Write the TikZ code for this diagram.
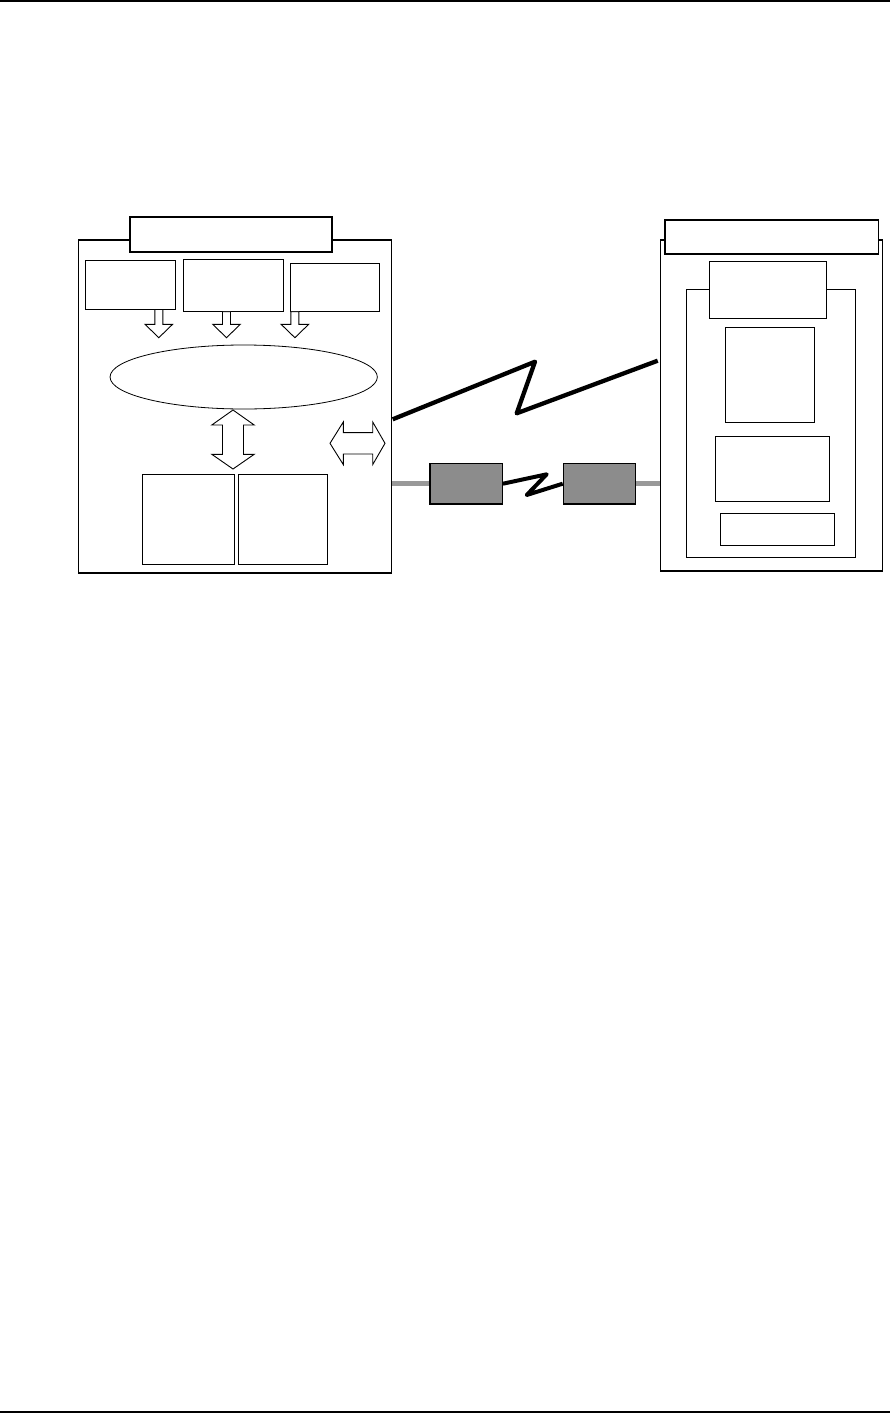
\documentclass[tikz,border=0pt]{standalone}
\usetikzlibrary{calc,shapes.geometric}
\begin{document}
\begin{tikzpicture}[x=1pt,y=-1pt,
  outerbox/.style={draw,line width=1.3pt,fill=white,inner sep=0pt,rectangle},
  titlebox/.style={draw,line width=1.7pt,fill=white,inner sep=0pt,rectangle},
  plainbox/.style={draw,line width=1pt,fill=white,inner sep=0pt,rectangle},
  graybox/.style={draw,line width=1.2pt,fill=black!45,inner sep=0pt,rectangle},
  blockarrow/.style={draw,line width=0.9pt,fill=white,line join=miter},
  bolt/.style={line width=4.3pt,line join=round,line cap=butt},
  grayline/.style={line width=5pt,draw=black!40}]
\useasboundingbox (0,0) rectangle (890,1413);
% page rules
\coordinate (tl) at (0,1); \coordinate (tr) at (890,1);
\coordinate (bl) at (0,1412); \coordinate (br) at (890,1412);
\draw[line width=1.5pt] (tl) -- (tr);
\draw[line width=1.5pt] (bl) -- (br);
% left panel
\node[outerbox,minimum width=313.4pt,minimum height=333pt] (lo) at (235,406.5) {};
\node[titlebox,minimum width=201.7pt,minimum height=35pt] (lt) at (230.8,234.2) {};
\node[plainbox,minimum width=89.7pt,minimum height=49pt] (b1) at (130.8,284.5) {};
\node[plainbox,minimum width=100pt,minimum height=51.7pt] (b2) at (233.3,285.8) {};
\node[plainbox,minimum width=88.6pt,minimum height=48.4pt] (b3) at (335,287.5) {};
\node[draw,line width=0.8pt,ellipse,minimum width=267.3pt,minimum height=64pt,inner sep=0pt] (el) at (243.7,377) {};
\node[plainbox,minimum width=92pt,minimum height=90pt] (ba) at (188.3,519.3) {};
\node[plainbox,minimum width=89pt,minimum height=90pt] (bb) at (282.8,519.3) {};
% small down block arrows
\foreach \cx/\top in {158.8/309.5, 226.5/311.7, 294.9/311.7}{
  \draw[blockarrow] (\cx-4,\top) -- (\cx+4,\top) -- (\cx+4,324.3) -- (\cx+13.8,324.3)
     -- (\cx,337.7) -- (\cx-13.8,324.3) -- (\cx-4,324.3) -- cycle;
}
% vertical double block arrow
\coordinate (va) at (233,439.5);
\draw[blockarrow] ($(va)+(0,-29.5)$) -- ++(21.2,15) -- ++(-10.7,0) -- ++(0,29.3) -- ++(10.7,0)
   -- ($(va)+(0,29.5)$) -- ++(-21.2,-14.7) -- ++(10.7,0) -- ++(0,-29.3) -- ++(-10.7,0) -- cycle;
% horizontal double block arrow
\coordinate (ha) at (357.5,443.3);
\draw[blockarrow] ($(ha)+(-27.5,0)$) -- ++(13.3,-21.3) -- ++(0,10.6) -- ++(29.4,0) -- ++(0,-10.6)
   -- ($(ha)+(27.5,0)$) -- ++(-12.3,21.3) -- ++(0,-10.6) -- ++(-29.4,0) -- ++(0,10.6) -- cycle;
% right panel
\node[outerbox,minimum width=221.6pt,minimum height=331pt] (ro) at (771.5,405.5) {};
\node[titlebox,minimum width=213.3pt,minimum height=34pt] (rt) at (771.7,237) {};
\node[plainbox,line width=1.1pt,minimum width=169.3pt,minimum height=268pt] (ri) at (770.7,423.3) {};
\node[plainbox,line width=1.1pt,minimum width=117.4pt,minimum height=57.3pt] (rs) at (768,289.7) {};
\node[plainbox,minimum width=89pt,minimum height=95pt] (r1) at (769.8,374.8) {};
\node[plainbox,minimum width=114.4pt,minimum height=65.3pt] (r2) at (772.5,468.7) {};
\node[plainbox,minimum width=114.4pt,minimum height=32pt] (r3) at (777.5,529.3) {};
% gray modem boxes
\node[graybox,minimum width=72.3pt,minimum height=40.7pt] (g1) at (466.2,483.7) {};
\node[graybox,minimum width=72.4pt,minimum height=40.7pt] (g2) at (599.5,483.7) {};
% connectors
\coordinate (z1) at (392.7,419.3);
\coordinate (z2) at (535,361.7);
\coordinate (z3) at (516.7,413.3);
\coordinate (z4) at (657.7,360.7);
\draw[bolt] (z1) -- (z2) -- (z3) -- (z4);
\draw[grayline] (lo.east |- g1.west) -- (g1.west);
\draw[grayline] (g2.east) -- (ro.west |- g2.east);
\coordinate (m1) at (546.7,474.3);
\coordinate (m2) at (526.7,495);
\draw[bolt,line width=4pt] (g1.east) -- (m1) -- (m2) -- (g2.west);
% redraw modem boxes on top
\node[graybox,minimum width=72.3pt,minimum height=40.7pt] at (g1) {};
\node[graybox,minimum width=72.4pt,minimum height=40.7pt] at (g2) {};
\end{tikzpicture}
\end{document}
